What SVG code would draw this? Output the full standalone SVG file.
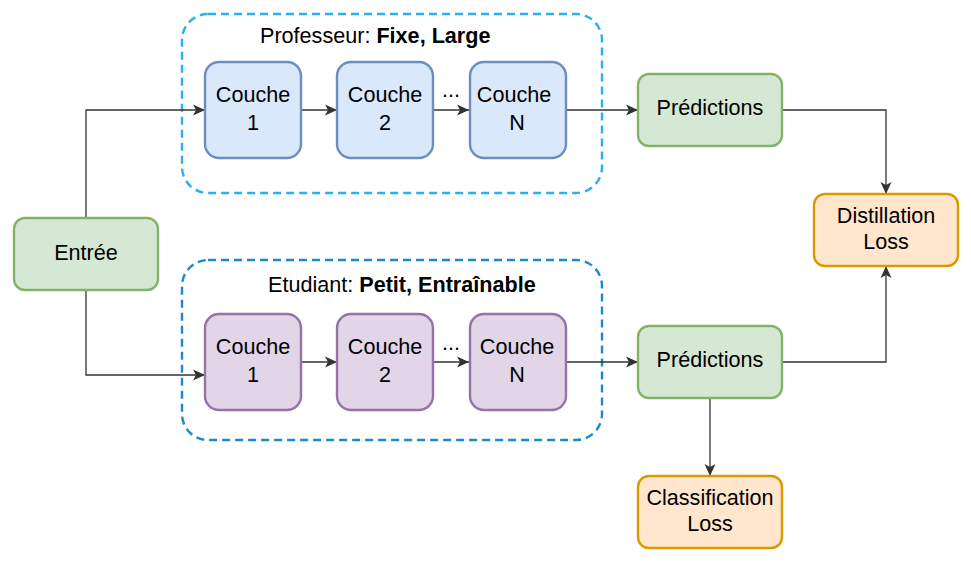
<svg xmlns="http://www.w3.org/2000/svg" width="971" height="561" viewBox="0 0 971 561">
<defs>
<marker id="arr" markerUnits="userSpaceOnUse" markerWidth="14" markerHeight="12" viewBox="0 0 14 12" refX="12" refY="6" orient="auto">
<path d="M0,0.5 L12,6 L0,11.5 L3,6 Z" fill="#333333"/>
</marker>
<style>
.t{font-family:"Liberation Sans",Arial,sans-serif;font-size:21.6px;fill:#000;text-anchor:middle}
.tl{font-family:"Liberation Sans",Arial,sans-serif;font-size:21.6px;fill:#000}
.b{font-weight:bold}
.blue{fill:#dae8fc;stroke:#6c8ebf;stroke-width:2.4}
.purple{fill:#e1d5e7;stroke:#9673a6;stroke-width:2.4}
.green{fill:#d5e8d4;stroke:#82b366;stroke-width:2.4}
.orange{fill:#ffe6cc;stroke:#d79b00;stroke-width:2.4}
.c{fill:none;stroke:#333333;stroke-width:1.3}
.ca{fill:none;stroke:#333333;stroke-width:1.3;marker-end:url(#arr)}
</style>
</defs>
<rect width="971" height="561" fill="#ffffff"/>
<g id="teacher-group">
<rect x="182" y="14" width="420" height="179" rx="26" fill="none" stroke="#2ab0f0" stroke-width="2.4" stroke-dasharray="8,5"/>
<text class="tl" x="260" y="43">Professeur: <tspan class="b">Fixe, Large</tspan></text>
</g>
<g id="student-group">
<rect x="182" y="260" width="420" height="180" rx="26" fill="none" stroke="#1a8ac8" stroke-width="2.4" stroke-dasharray="8,5"/>
<text class="tl" x="268" y="292">Etudiant: <tspan class="b">Petit, Entraînable</tspan></text>
</g>
<g id="connectors">
<path class="ca" d="M86,218 V110 H205"/>
<path class="ca" d="M86,290 V375 H205"/>
<path class="ca" d="M302,110 H337"/>
<path class="ca" d="M434,110 H469"/>
<path class="ca" d="M566,110 H638"/>
<path class="ca" d="M302,362 H337"/>
<path class="ca" d="M434,362 H469"/>
<path class="ca" d="M566,362 H638"/>
<path class="ca" d="M782,110 H886 V194"/>
<path class="ca" d="M782,362 H886 V266"/>
<path class="ca" d="M710,398 V476"/>
</g>
<g id="dots-teacher"><text class="t" x="451" y="97">...</text></g>
<g id="dots-student"><text class="t" x="451" y="350">...</text></g>
<g id="entree">
<rect class="green" x="14" y="218" width="144" height="72" rx="11"/>
<text class="t" x="86" y="260">Entrée</text>
</g>
<g id="t-couche1">
<rect class="blue" x="205" y="62" width="96" height="96" rx="14"/>
<text class="t" x="253" y="102">Couche</text><text class="t" x="253" y="130">1</text>
</g>
<g id="t-couche2">
<rect class="blue" x="337" y="62" width="96" height="96" rx="14"/>
<text class="t" x="385" y="102">Couche</text><text class="t" x="385" y="130">2</text>
</g>
<g id="t-coucheN">
<rect class="blue" x="470" y="62" width="96" height="96" rx="14"/>
<text class="t" x="514" y="102">Couche</text><text class="t" x="517" y="130">N</text>
</g>
<g id="s-couche1">
<rect class="purple" x="205" y="314" width="96" height="96" rx="14"/>
<text class="t" x="253" y="354">Couche</text><text class="t" x="253" y="382">1</text>
</g>
<g id="s-couche2">
<rect class="purple" x="337" y="314" width="96" height="96" rx="14"/>
<text class="t" x="385" y="354">Couche</text><text class="t" x="385" y="382">2</text>
</g>
<g id="s-coucheN">
<rect class="purple" x="470" y="314" width="96" height="96" rx="14"/>
<text class="t" x="517" y="354">Couche</text><text class="t" x="517" y="382">N</text>
</g>
<g id="pred-teacher">
<rect class="green" x="638" y="74" width="144" height="72" rx="11"/>
<text class="t" x="710" y="115">Prédictions</text>
</g>
<g id="pred-student">
<rect class="green" x="638" y="326" width="144" height="72" rx="11"/>
<text class="t" x="710" y="367">Prédictions</text>
</g>
<g id="distillation">
<rect class="orange" x="814" y="194" width="144" height="72" rx="11"/>
<text class="t" x="886" y="222.5">Distillation</text><text class="t" x="886" y="249">Loss</text>
</g>
<g id="classification">
<rect class="orange" x="638" y="476" width="144" height="72" rx="11"/>
<text class="t" x="710" y="504.5">Classification</text><text class="t" x="710" y="531">Loss</text>
</g>
</svg>
